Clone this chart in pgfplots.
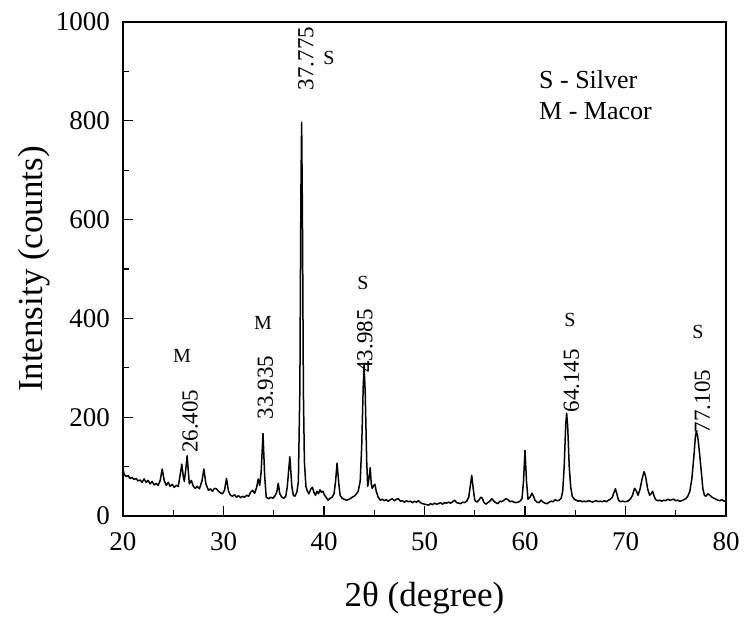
\documentclass[border=0pt]{standalone}
\usepackage{fontspec}
\setmainfont{Liberation Serif}
\usepackage{pgfplots}
\pgfplotsset{compat=1.18}
\pgfplotstableread{
x y
20.0 95
20.1 85
20.3 80
20.5 82
20.7 76
20.9 78
21.1 74
21.3 76
21.5 71
21.7 73
21.9 68
22.1 75
22.3 68
22.5 72
22.7 65
22.9 70
23.1 63
23.3 66
23.5 62
23.7 72
23.9 95
24.1 72
24.3 62
24.5 68
24.7 60
24.9 64
25.1 58
25.3 62
25.5 60
25.7 85
25.85 105
26.0 80
26.1 70
26.25 95
26.38 122
26.5 90
26.6 65
26.8 72
27.0 60
27.2 56
27.4 60
27.6 55
27.85 70
28.05 95
28.25 65
28.5 52
28.7 55
28.9 50
29.1 56
29.3 55
29.5 50
29.7 47
29.9 45
30.1 52
30.3 76
30.5 50
30.7 42
30.9 40
31.1 43
31.3 38
31.5 41
31.7 37
31.9 40
32.1 38
32.3 42
32.5 40
32.7 48
32.9 52
33.1 46
33.3 58
33.45 75
33.6 62
33.75 90
33.93 167
34.1 80
34.25 38
34.5 35
34.7 38
34.9 36
35.1 40
35.3 48
35.45 66
35.6 45
35.8 38
36.0 36
36.2 40
36.35 60
36.6 120
36.8 60
36.95 42
37.1 40
37.3 48
37.45 70
37.6 260
37.7 650
37.775 797
37.85 620
37.95 250
38.05 110
38.2 60
38.35 50
38.5 45
38.7 55
38.85 58
39.0 48
39.15 42
39.3 50
39.45 45
39.6 53
39.75 48
39.9 50
40.05 42
40.2 38
40.4 32
40.6 36
40.8 38
41.0 45
41.15 70
41.3 107
41.45 70
41.6 42
41.8 36
42.0 34
42.2 32
42.4 33
42.6 35
42.8 38
43.0 40
43.2 44
43.4 50
43.6 70
43.75 140
43.9 260
43.985 306
44.1 250
44.25 110
44.35 60
44.5 80
44.6 98
44.7 65
44.8 56
44.95 62
45.07 64
45.2 50
45.4 38
45.6 32
45.8 34
46.0 31
46.2 33
46.4 30
46.6 33
46.8 35
47.0 31
47.2 34
47.4 35
47.6 30
47.8 31
48.0 28
48.2 31
48.4 29
48.6 30
48.8 27
49.0 30
49.2 28
49.4 31
49.6 27
49.8 25
50.0 24
50.2 23
50.4 22
50.6 25
50.8 23
51.0 26
51.2 24
51.4 25
51.6 27
51.8 24
52.0 27
52.2 26
52.4 28
52.6 26
52.8 29
53.0 32
53.2 27
53.4 26
53.6 25
53.8 28
54.0 27
54.2 30
54.4 38
54.55 60
54.7 82
54.85 55
55.0 32
55.2 28
55.4 32
55.6 38
55.75 36
55.9 28
56.1 24
56.3 27
56.5 30
56.7 35
56.9 30
57.1 27
57.3 25
57.5 30
57.7 29
57.9 32
58.1 35
58.3 33
58.5 29
58.7 30
58.9 28
59.1 27
59.3 28
59.5 30
59.7 35
59.85 70
60.0 133
60.15 70
60.3 34
60.5 38
60.7 46
60.85 40
61.0 32
61.2 28
61.4 27
61.6 32
61.8 28
62.0 26
62.2 25
62.4 28
62.6 30
62.8 29
63.0 33
63.2 31
63.4 32
63.6 36
63.75 50
63.9 100
64.05 185
64.145 208
64.25 180
64.4 100
64.55 58
64.7 40
64.9 34
65.1 32
65.3 30
65.5 31
65.7 29
65.9 30
66.1 29
66.3 31
66.5 30
66.7 28
66.9 30
67.1 31
67.3 29
67.5 30
67.7 29
67.9 31
68.1 29
68.3 32
68.5 34
68.7 38
68.85 48
69.0 55
69.15 44
69.3 32
69.5 29
69.7 30
69.9 29
70.1 29
70.3 31
70.5 35
70.7 42
70.9 56
71.05 52
71.25 42
71.45 55
71.65 75
71.85 90
72.0 80
72.2 55
72.4 42
72.55 45
72.7 50
72.85 40
73.0 33
73.2 31
73.4 32
73.6 30
73.8 32
74.0 31
74.2 34
74.4 32
74.6 33
74.8 34
75.0 31
75.2 32
75.4 30
75.6 31
75.8 33
76.0 35
76.2 40
76.4 50
76.6 75
76.8 120
76.95 160
77.05 171
77.15 165
77.25 150
77.4 120
77.55 88
77.7 55
77.85 42
78.0 40
78.2 45
78.4 42
78.6 38
78.8 36
79.0 34
79.2 32
79.4 31
79.6 33
79.8 30
80.0 31
}\xrd
\newcommand{\ticfont}{\fontsize{27}{27}\selectfont}
\newcommand{\labfont}{\fontsize{35}{35}\selectfont}
\newcommand{\annfont}{\fontsize{23}{23}\selectfont}
\newcommand{\phfont}{\fontsize{20}{20}\selectfont}
\newcommand{\legfont}{\fontsize{26}{26}\selectfont}
\begin{document}
\begin{tikzpicture}
\begin{axis}[
  name=ax,
  scale only axis,
  width=603pt, height=494pt,
  xmin=20, xmax=80, ymin=0, ymax=1000,
  xtick={20,30,...,80}, ytick={0,200,...,1000},
  minor x tick num=1, minor y tick num=1,
  tick align=inside,
  xtick pos=left, ytick pos=left,
  major tick length=10pt, minor tick length=6pt,
  every tick/.style={black, line width=1.3pt},
  axis line style={line width=1.5pt},
  /pgf/number format/assume math mode=true,
  /pgf/number format/1000 sep={},
  tick label style={font=\ticfont, inner sep=0pt},
  xticklabel style={yshift=-16pt},
  yticklabel style={xshift=-13pt},
  xlabel={2θ (degree)},
  ylabel={Intensity (counts)},
  label style={font=\labfont, inner sep=0pt},
  xlabel style={at={(axis description cs:0.5,-0.1822)}, anchor=base},
  ylabel style={at={(axis description cs:-0.1343,0.5)}, anchor=base, rotate=0},
  clip=false,
]
\addplot[black, line width=1.5pt, line join=round] table[x=x,y=y] {\xrd};
\node[rotate=90, font=\annfont, inner sep=0pt] at (axis cs:26.67,192) {26.405};
\node[font=\phfont, inner sep=0pt] at (axis cs:25.87,324) {M};
\node[rotate=90, font=\annfont, inner sep=0pt] at (axis cs:34.18,260) {33.935};
\node[font=\phfont, inner sep=0pt] at (axis cs:33.93,391) {M};
\node[rotate=90, font=\annfont, inner sep=0pt] at (axis cs:38.21,926) {37.775};
\node[font=\phfont, inner sep=0pt] at (axis cs:40.5,928) {S};
\node[rotate=90, font=\annfont, inner sep=0pt] at (axis cs:44.08,354) {43.985};
\node[font=\phfont, inner sep=0pt] at (axis cs:43.88,472) {S};
\node[rotate=90, font=\annfont, inner sep=0pt] at (axis cs:64.63,274) {64.145};
\node[font=\phfont, inner sep=0pt] at (axis cs:64.48,397) {S};
\node[rotate=90, font=\annfont, inner sep=0pt] at (axis cs:77.66,232) {77.105};
\node[font=\phfont, inner sep=0pt] at (axis cs:77.21,373) {S};
\node[font=\legfont, inner sep=0pt, anchor=base west] at (axis cs:61.39,866) {S - Silver};
\node[font=\legfont, inner sep=0pt, anchor=base west] at (axis cs:61.39,803) {M - Macor};
\end{axis}
\pgfresetboundingbox
\path ([shift={(-123pt,-101pt)}]ax.south west) rectangle ([shift={(18pt,22pt)}]ax.north east);
\end{tikzpicture}
\end{document}
